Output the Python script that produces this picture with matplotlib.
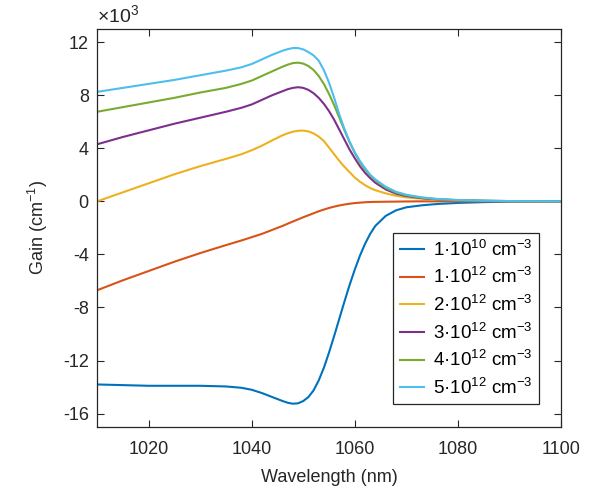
import numpy as np
import matplotlib
matplotlib.use("Agg")
import matplotlib.pyplot as plt
from matplotlib.ticker import FuncFormatter

# wavelength grid the curves were read at (nm)
wavelength = [1010, 1015, 1020, 1025, 1030, 1035, 1038, 1040, 1042, 1044, 1046,
              1047, 1048, 1049, 1050, 1051, 1052, 1053, 1054, 1055, 1056,
              1057, 1058, 1059, 1060, 1061, 1062, 1063, 1064, 1066, 1068,
              1070, 1073, 1076, 1080, 1085, 1090, 1100]

# gain in units of 1e3 cm^-1, one list per carrier density
gain_1e10 = [-13.8, -13.85, -13.9, -13.9, -13.9, -13.95, -14.05, -14.2, -14.45, -14.75, -15.05,
             -15.18, -15.25, -15.22, -15.05, -14.75, -14.25, -13.5, -12.55, -11.4, -10.15,
             -8.85, -7.55, -6.3, -5.15, -4.1, -3.2, -2.45, -1.85, -1.1, -0.68,
             -0.45, -0.3, -0.2, -0.12, -0.06, -0.03, 0.0]
gain_1e12 = [-6.7, -5.95, -5.25, -4.55, -3.9, -3.3, -2.95, -2.7, -2.45, -2.15, -1.85,
             -1.68, -1.52, -1.36, -1.2, -1.05, -0.9, -0.75, -0.62, -0.5, -0.4,
             -0.31, -0.24, -0.18, -0.13, -0.1, -0.07, -0.05, -0.04, -0.03, -0.02,
             -0.01, 0.0, 0.0, 0.0, 0.0, 0.0, 0.0]
gain_2e12 = [0.0, 0.68, 1.36, 2.04, 2.65, 3.2, 3.55, 3.85, 4.2, 4.6, 4.98,
             5.13, 5.25, 5.32, 5.33, 5.27, 5.12, 4.88, 4.55, 4.05, 3.55,
             3.05, 2.6, 2.2, 1.8, 1.48, 1.22, 1.0, 0.84, 0.6, 0.42,
             0.3, 0.2, 0.13, 0.07, 0.03, 0.01, 0.0]
gain_3e12 = [4.3, 4.85, 5.35, 5.85, 6.3, 6.75, 7.05, 7.3, 7.65, 8.0, 8.3,
             8.45, 8.55, 8.6, 8.55, 8.4, 8.15, 7.8, 7.35, 6.8, 6.15,
             5.4, 4.65, 3.9, 3.25, 2.65, 2.15, 1.75, 1.4, 0.9, 0.58,
             0.4, 0.24, 0.15, 0.08, 0.04, 0.02, 0.0]
gain_4e12 = [6.75, 7.1, 7.45, 7.8, 8.2, 8.55, 8.85, 9.1, 9.45, 9.8, 10.15,
             10.3, 10.42, 10.45, 10.38, 10.2, 9.9, 9.45, 8.85, 8.1, 7.25,
             6.3, 5.35, 4.45, 3.65, 2.95, 2.4, 1.95, 1.58, 1.02, 0.66,
             0.45, 0.27, 0.16, 0.09, 0.04, 0.02, 0.0]
gain_5e12 = [8.25, 8.55, 8.85, 9.15, 9.5, 9.85, 10.1, 10.35, 10.7, 11.05, 11.35,
             11.47, 11.55, 11.55, 11.45, 11.25, 11.0, 10.6, 9.9, 8.95, 7.8,
             6.55, 5.45, 4.5, 3.7, 3.05, 2.5, 2.0, 1.65, 1.1, 0.72,
             0.5, 0.3, 0.18, 0.1, 0.05, 0.02, 0.0]

labels = ["1·10$^{10}$ cm$^{-3}$", "1·10$^{12}$ cm$^{-3}$",
          "2·10$^{12}$ cm$^{-3}$", "3·10$^{12}$ cm$^{-3}$",
          "4·10$^{12}$ cm$^{-3}$", "5·10$^{12}$ cm$^{-3}$"]
colors = ["#0072BD", "#D95319", "#EDB120", "#7E2F8E", "#77AC30", "#4DBEEE"]

plt.rcParams["font.family"] = ["Liberation Sans", "DejaVu Sans"]
plt.rcParams["mathtext.fontset"] = "custom"
plt.rcParams["mathtext.rm"] = "Liberation Sans"
plt.rcParams["mathtext.default"] = "regular"
plt.rcParams["axes.unicode_minus"] = False

fig = plt.figure(figsize=(5.96, 4.97), dpi=100)
ax = fig.add_axes([0.163, 0.141, 0.778, 0.801])

series = [gain_1e10, gain_1e12, gain_2e12, gain_3e12, gain_4e12, gain_5e12]
for g, c, lab in zip(series, colors, labels):
    ax.plot(wavelength, np.array(g) * 1e3, color=c, lw=1.5, label=lab)

ax.set_xlim(1010, 1100)
ax.set_ylim(-17000, 13000)
ax.set_xticks([1020, 1040, 1060, 1080, 1100])
ax.set_yticks(np.arange(-16000, 12001, 4000))
# MATLAB style: plain hyphen minus, exponent shown above the axis
ax.yaxis.set_major_formatter(FuncFormatter(lambda v, p: f"{v / 1e3:g}"))

dark = "#262626"
ax.tick_params(direction="in", top=True, right=True, labelsize=13,
               colors=dark, length=5, width=0.8)
ax.tick_params(axis="x", pad=10)
ax.tick_params(axis="y", pad=6)
for s in ax.spines.values():
    s.set_color(dark)
    s.set_linewidth(0.9)
ax.text(0.0, 1.008, "×10$^3$", transform=ax.transAxes, fontsize=14,
        color=dark, ha="left", va="bottom")

ax.set_xlabel("Wavelength (nm)", fontsize=13, color=dark, labelpad=8)
ax.set_ylabel("Gain (cm$^{-1}$)", fontsize=13, color=dark, labelpad=9)

leg = ax.legend(loc="upper left", bbox_to_anchor=(0.638, 0.487), borderaxespad=0,
                fontsize=13.5, fancybox=False, framealpha=1, edgecolor=dark,
                handlelength=1.3, labelspacing=0.4, handletextpad=0.5,
                borderpad=0.35)
leg.get_frame().set_linewidth(0.9)

fig.savefig("out.png", dpi=100)
